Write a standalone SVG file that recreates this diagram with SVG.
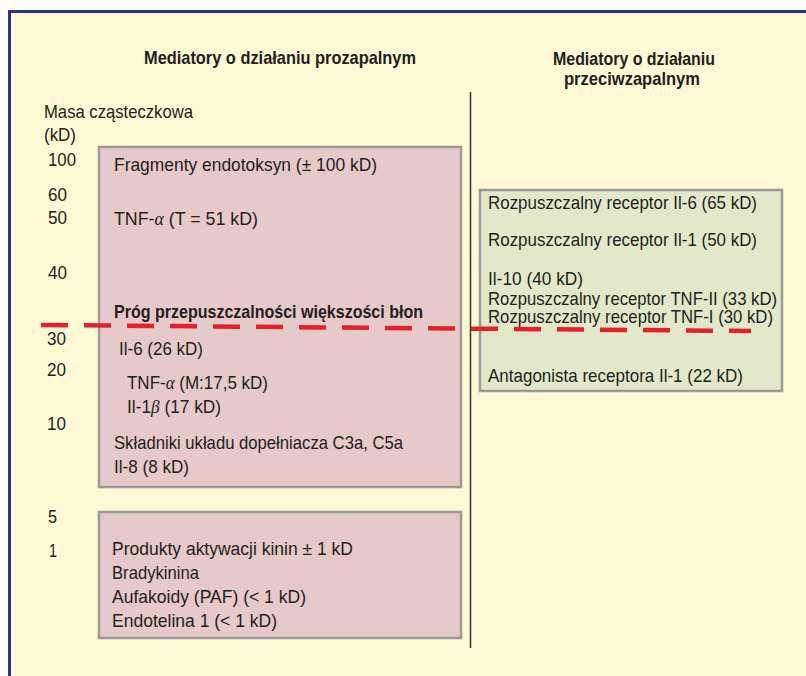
<svg xmlns="http://www.w3.org/2000/svg" width="806" height="676" viewBox="0 0 806 676">
<style>
text{font-family:"Liberation Sans",Arial,sans-serif;fill:#231f20;font-size:19px}
.t{font-weight:bold;font-size:19px}
.g{font-family:"Liberation Serif","Times New Roman",serif;font-style:italic}
.box1{fill:#e6c9c9;stroke:#9b9b9b;stroke-width:2.5}
.box2{fill:#e2e8c9;stroke:#9b9b9b;stroke-width:2.5}
</style>
<rect x="0" y="0" width="806" height="676" fill="#ffffff"/>
<rect x="9.5" y="11.5" width="820" height="700" fill="#fff8d4" stroke="#2e3192" stroke-width="3"/>
<g id="titles">
<text class="t" x="144" y="64" textLength="272" lengthAdjust="spacingAndGlyphs">Mediatory o działaniu prozapalnym</text>
<text class="t" x="553" y="65" textLength="162" lengthAdjust="spacingAndGlyphs">Mediatory o działaniu</text>
<text class="t" x="564" y="85" textLength="136" lengthAdjust="spacingAndGlyphs">przeciwzapalnym</text>
</g>
<g id="axis">
<text x="44" y="118" textLength="149" lengthAdjust="spacingAndGlyphs">Masa cząsteczkowa</text>
<text x="44" y="141" textLength="32" lengthAdjust="spacingAndGlyphs">(kD)</text>
<text x="48" y="166" textLength="28" lengthAdjust="spacingAndGlyphs">100</text>
<text x="48" y="201" textLength="19" lengthAdjust="spacingAndGlyphs">60</text>
<text x="48" y="224" textLength="19" lengthAdjust="spacingAndGlyphs">50</text>
<text x="48" y="279" textLength="19" lengthAdjust="spacingAndGlyphs">40</text>
<text x="47" y="345" textLength="19" lengthAdjust="spacingAndGlyphs">30</text>
<text x="47" y="376" textLength="19" lengthAdjust="spacingAndGlyphs">20</text>
<text x="47" y="430" textLength="19" lengthAdjust="spacingAndGlyphs">10</text>
<text x="48" y="523" textLength="9" lengthAdjust="spacingAndGlyphs">5</text>
<text x="49" y="557" textLength="8" lengthAdjust="spacingAndGlyphs">1</text>
</g>
<g id="divider">
<line x1="470.5" y1="92" x2="470.5" y2="648" stroke="#333333" stroke-width="1.5"/>
</g>
<g id="pro-high">
<rect class="box1" x="99" y="147" width="362" height="340"/>
<text x="114" y="171" textLength="263" lengthAdjust="spacingAndGlyphs">Fragmenty endotoksyn (± 100 kD)</text>
<text x="114" y="225" textLength="144" lengthAdjust="spacingAndGlyphs">TNF-<tspan class="g">α</tspan> (T = 51 kD)</text>
<text class="t" x="114" y="318" textLength="309" lengthAdjust="spacingAndGlyphs">Próg przepuszczalności większości błon</text>
<text x="119" y="355" textLength="84" lengthAdjust="spacingAndGlyphs">Il-6 (26 kD)</text>
<text x="127" y="389" textLength="141" lengthAdjust="spacingAndGlyphs">TNF-<tspan class="g">α</tspan> (M:17,5 kD)</text>
<text x="127" y="413" textLength="94" lengthAdjust="spacingAndGlyphs">Il-1<tspan class="g">β</tspan> (17 kD)</text>
<text x="114" y="449" textLength="289" lengthAdjust="spacingAndGlyphs">Składniki układu dopełniacza C3a, C5a</text>
<text x="114" y="473" textLength="75" lengthAdjust="spacingAndGlyphs">Il-8 (8 kD)</text>
</g>
<g id="pro-low">
<rect class="box1" x="99" y="512" width="362" height="126"/>
<text x="112" y="555" textLength="241" lengthAdjust="spacingAndGlyphs">Produkty aktywacji kinin ± 1 kD</text>
<text x="112" y="579" textLength="87" lengthAdjust="spacingAndGlyphs">Bradykinina</text>
<text x="112" y="603" textLength="194" lengthAdjust="spacingAndGlyphs">Aufakoidy (PAF) (&lt; 1 kD)</text>
<text x="112" y="627" textLength="165" lengthAdjust="spacingAndGlyphs">Endotelina 1 (&lt; 1 kD)</text>
</g>
<g id="anti">
<rect class="box2" x="480" y="190" width="302" height="201"/>
<text x="488" y="209" textLength="269" lengthAdjust="spacingAndGlyphs">Rozpuszczalny receptor Il-6 (65 kD)</text>
<text x="488" y="246" textLength="269" lengthAdjust="spacingAndGlyphs">Rozpuszczalny receptor Il-1 (50 kD)</text>
<text x="488" y="285" textLength="95" lengthAdjust="spacingAndGlyphs">Il-10 (40 kD)</text>
<text x="488" y="305" textLength="289" lengthAdjust="spacingAndGlyphs">Rozpuszczalny receptor TNF-II (33 kD)</text>
<text x="488" y="323" textLength="285" lengthAdjust="spacingAndGlyphs">Rozpuszczalny receptor TNF-I (30 kD)</text>
<text x="488" y="382" textLength="255" lengthAdjust="spacingAndGlyphs">Antagonista receptora Il-1 (22 kD)</text>
</g>
<g id="connectors">
<line x1="41" y1="325" x2="751" y2="331" stroke="#e4202a" stroke-width="4.5" stroke-dasharray="27 16"/>
</g>
</svg>
